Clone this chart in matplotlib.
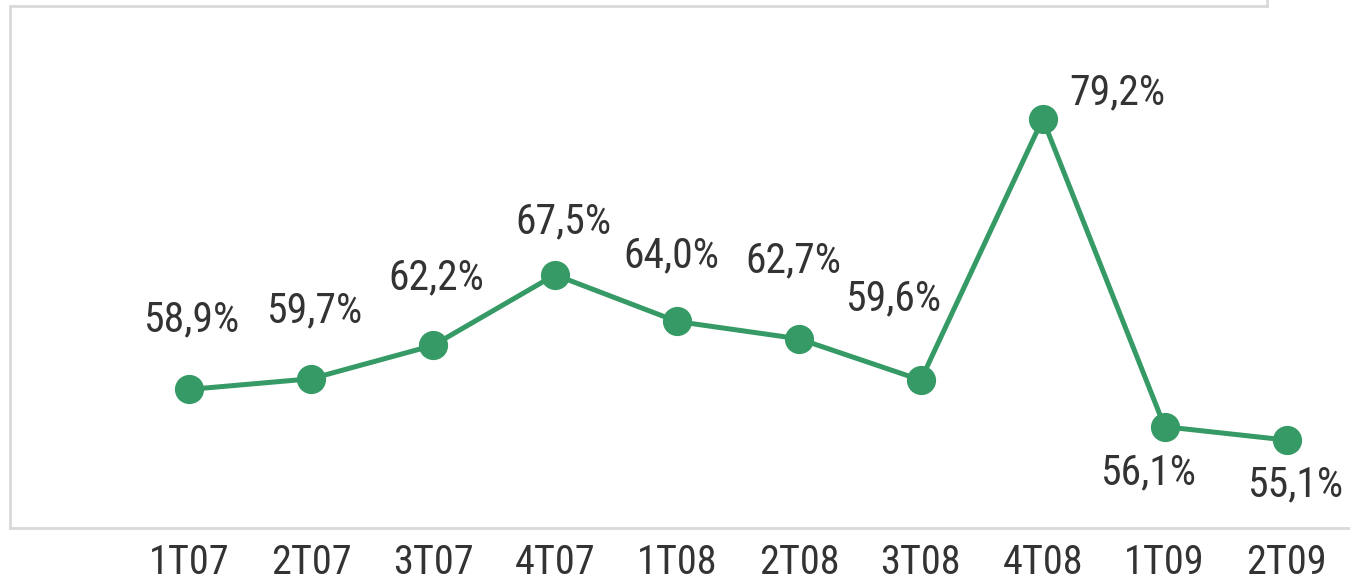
import matplotlib
matplotlib.use("Agg")
import matplotlib.pyplot as plt
from matplotlib.lines import Line2D

categories = ["1T07", "2T07", "3T07", "4T07", "1T08", "2T08", "3T08", "4T08", "1T09", "2T09"]
values = [58.9, 59.7, 62.2, 67.5, 64.0, 62.7, 59.6, 79.2, 56.1, 55.1]
labels = ["58,9%", "59,7%", "62,2%", "67,5%", "64,0%", "62,7%", "59,6%", "79,2%", "56,1%", "55,1%"]

# label placement offsets (pixels, x right / y up) relative to each point; baseline anchored
label_offsets = [(2, 58), (3, 56), (3, 56), (8, 42), (-6, 54), (-6, 66), (-28, 70),
                 (75, 15), (-17, -58), (8, -56)]

plt.rcParams["font.family"] = ["Roboto Condensed", "Barlow Semi Condensed", "DejaVu Sans"]

GREEN = "#359a65"
TXT = "#333333"
FRAME = "#d9d9d9"

W, H = 1350, 580
fig = plt.figure(figsize=(13.5, 5.8), dpi=100)
# axes: left 10px, bottom 528px, right 1350px, top 7px
ax = fig.add_axes([10 / W, (H - 528) / H, (W - 10) / W, (528 - 7) / H])
x = list(range(len(categories)))
ax.plot(x, values, color=GREEN, lw=3.6, marker="o", ms=20, mfc=GREEN, mec=GREEN, zorder=3)

ax.set_xlim(-1.47, 9.52)
ax.set_ylim(48.5, 87.6)

for i, (v, lab) in enumerate(zip(values, labels)):
    dx, dy = label_offsets[i]
    ax.annotate(lab, (i, v), xytext=(dx, dy), textcoords="offset pixels",
                ha="center", va="baseline", fontsize=30, color=TXT)

ax.set_xticks(x)
ax.set_xticklabels(categories, fontsize=29, color=TXT)
ax.tick_params(axis="x", length=0, pad=11)
ax.set_yticks([])
for s in ["top", "right"]:
    ax.spines[s].set_visible(False)
for s in ["left", "bottom"]:
    ax.spines[s].set_color(FRAME)
    ax.spines[s].set_linewidth(2)

# upper box edge (partially visible frame at top)
fig.add_artist(Line2D([10 / W, 1267 / W], [(H - 6) / H, (H - 6) / H], color=FRAME, lw=2, transform=fig.transFigure))
fig.add_artist(Line2D([1267 / W, 1267 / W], [(H - 6) / H, 1.0], color=FRAME, lw=2, transform=fig.transFigure))

fig.savefig("out.png", dpi=100, facecolor="white")
